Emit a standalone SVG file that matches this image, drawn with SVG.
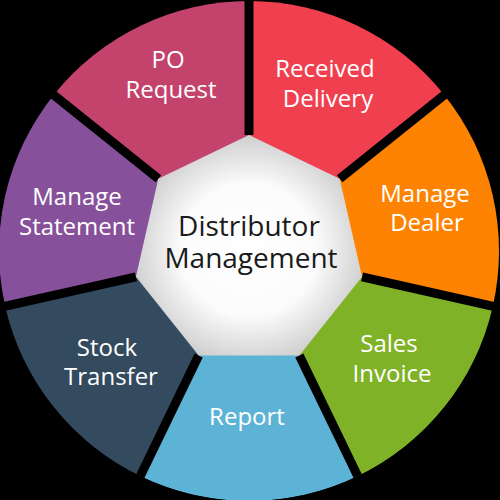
<svg xmlns="http://www.w3.org/2000/svg" width="500" height="500" viewBox="0 0 500 500">
  <defs>
    <radialGradient id="hub" cx="50%" cy="52%" r="55%">
      <stop offset="0" stop-color="#ffffff"/>
      <stop offset="0.55" stop-color="#fbfbfb"/>
      <stop offset="1" stop-color="#c9c9c9"/>
    </radialGradient>
    <clipPath id="disc"><circle cx="249" cy="250" r="251"/></clipPath>
  </defs>
  <style>
    .lbl { font-family: "Open Sans", "Noto Sans", sans-serif; font-size: 24px; fill: #ffffff; text-anchor: middle; }
    .hub { font-family: "Open Sans", "Noto Sans", sans-serif; font-size: 28px; fill: #1a1a1a; text-anchor: middle; }
    .gap { stroke: #000000; stroke-width: 9; }
  </style>
  <rect width="500" height="500" fill="#000000"/>
  <g clip-path="url(#disc)">
    <g id="po-request">
      <path d="M249 251 L53.54 95.13 A250 250 0 0 1 249 1 Z" fill="#c3436d"/>
      <text class="lbl" x="168" y="68">PO</text>
      <text class="lbl" x="171" y="98">Request</text>
    </g>
    <g id="received-delivery">
      <path d="M249 251 L249 1 A250 250 0 0 1 444.46 95.13 Z" fill="#f0404f"/>
      <text class="lbl" x="325" y="77">Received</text>
      <text class="lbl" x="328" y="107">Delivery</text>
    </g>
    <g id="manage-dealer">
      <path d="M249 251 L444.46 95.13 A250 250 0 0 1 492.73 306.63 Z" fill="#fe8303"/>
      <text class="lbl" x="425" y="202">Manage</text>
      <text class="lbl" x="427" y="231">Dealer</text>
    </g>
    <g id="sales-invoice">
      <path d="M249 251 L492.73 306.63 A250 250 0 0 1 357.47 476.24 Z" fill="#80b227"/>
      <text class="lbl" x="389" y="352">Sales</text>
      <text class="lbl" x="392" y="382">Invoice</text>
    </g>
    <g id="report">
      <path d="M249 251 L357.47 476.24 A250 250 0 0 1 140.53 476.24 Z" fill="#5db3d5"/>
      <text class="lbl" x="247" y="425">Report</text>
    </g>
    <g id="stock-transfer">
      <path d="M249 251 L140.53 476.24 A250 250 0 0 1 5.27 306.63 Z" fill="#344a5f"/>
      <text class="lbl" x="107" y="356">Stock</text>
      <text class="lbl" x="111" y="385">Transfer</text>
    </g>
    <g id="manage-statement">
      <path d="M249 251 L5.27 306.63 A250 250 0 0 1 53.54 95.13 Z" fill="#87509b"/>
      <text class="lbl" x="77" y="205">Manage</text>
      <text class="lbl" x="77" y="235">Statement</text>
    </g>
    <g id="separators">
      <line class="gap" x1="249" y1="135" x2="249" y2="-10"/>
      <line class="gap" x1="339.69" y1="178.68" x2="453" y2="88"/>
      <line class="gap" x1="362.09" y1="276.81" x2="505" y2="309"/>
      <line class="gap" x1="299.33" y1="355.51" x2="363" y2="487"/>
      <line class="gap" x1="198.67" y1="355.51" x2="135" y2="487"/>
      <line class="gap" x1="135.91" y1="276.81" x2="-7" y2="309"/>
      <line class="gap" x1="158.31" y1="178.68" x2="45" y2="88"/>
    </g>
  </g>
  <g id="distributor-management">
    <polygon points="249,135 339.69,178.68 362.09,276.81 299.33,355.51 198.67,355.51 135.91,276.81 158.31,178.68" fill="url(#hub)"/>
    <text class="hub" x="249" y="236">Distributor</text>
    <text class="hub" x="251" y="268">Management</text>
  </g>
</svg>
